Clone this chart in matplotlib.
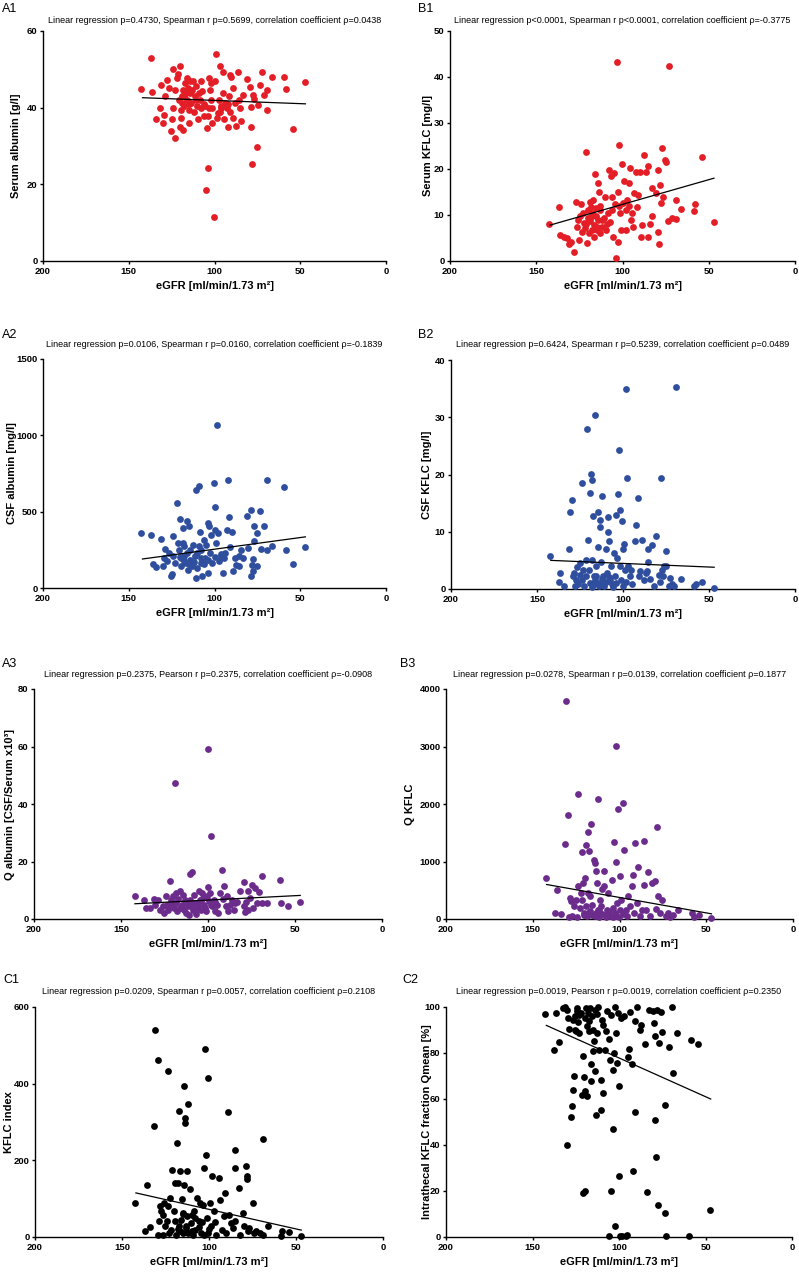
import matplotlib
matplotlib.use('Agg')
import matplotlib.pyplot as plt

W, H = 799, 1273

fit_x = [142, 47]

# A1 serum albumin
a1_pts = [(142.7, 44.9), (137.3, 53.0), (136.5, 44.0), (134.2, 37.1), (131.4, 45.9), (131.8, 39.9),
          (129.9, 36.0), (129.5, 38.2), (128.7, 43.0), (127.6, 47.3), (126.8, 45.2), (125.6, 34.0),
          (124.8, 37.1), (124.4, 39.9), (124.0, 50.0), (123.3, 32.0), (122.9, 44.6), (122.1, 47.8),
          (121.3, 48.9), (120.9, 42.1), (120.2, 50.8), (120.2, 34.9), (119.8, 39.5), (119.4, 37.3),
          (119.0, 41.2), (118.6, 44.7), (118.2, 34.3), (117.8, 43.0), (117.5, 40.4), (117.1, 46.5),
          (116.7, 43.9), (116.3, 42.1), (115.9, 47.8), (115.5, 45.2), (115.1, 36.0), (114.7, 39.5),
          (114.4, 43.8), (114.0, 46.9), (113.6, 41.2), (113.2, 44.7), (112.4, 47.0), (111.6, 43.0),
          (110.9, 45.6), (110.1, 40.4), (109.7, 37.1), (108.9, 43.9), (108.5, 42.1), (107.8, 46.9),
          (107.4, 44.3), (106.2, 37.8), (105.4, 40.4), (105.0, 18.4), (104.3, 34.7), (103.9, 37.8),
          (103.5, 24.2), (103.1, 47.8), (102.7, 44.7), (102.3, 42.1), (101.9, 46.5), (101.5, 36.0),
          (101.2, 39.9), (100.4, 11.6), (99.6, 46.9), (99.2, 54.1), (98.8, 37.3), (98.0, 38.6),
          (97.3, 42.1), (96.9, 51.0), (96.1, 40.4), (95.3, 49.3), (94.9, 43.9), (94.5, 37.1),
          (93.8, 41.2), (93.0, 39.9), (92.2, 35.0), (91.4, 43.0), (90.7, 48.6), (90.3, 48.0),
          (89.5, 45.2), (89.1, 37.3), (88.3, 41.1), (87.2, 35.1), (86.4, 49.3), (85.6, 42.1),
          (85.2, 39.9), (84.4, 36.4), (83.3, 43.4), (81.3, 47.6), (79.4, 45.4), (79.0, 40.2),
          (78.6, 34.9), (78.2, 25.4), (77.5, 43.4), (76.7, 42.3), (75.1, 29.7), (74.7, 40.8),
          (73.2, 46.0), (72.4, 49.3), (71.2, 43.3), (69.3, 39.3), (69.3, 44.6), (66.2, 48.0),
          (59.2, 48.0), (58.1, 44.8), (54.2, 34.5), (47.2, 46.7), (106, 41), (111, 42), (115, 41),
          (119, 43), (103, 40), (96, 40), (94, 40.5), (92, 41), (91, 39), (97, 39), (112, 39), (108, 40)]
a1_fit = [42.6, 41.0]

# B1 serum KFLC
b1_pts = [(142.4, 8.0), (136.8, 11.7), (136.0, 5.6), (134.1, 5.2), (132.2, 4.9), (131.0, 3.6),
          (129.9, 4.1), (127.9, 2.0), (127.1, 12.8), (126.4, 7.5), (125.6, 8.9), (125.2, 4.6),
          (124.4, 9.8), (124.1, 12.4), (123.7, 6.4), (122.9, 10.4), (122.5, 8.2), (121.7, 7.1),
          (121.0, 23.6), (120.6, 4.0), (120.2, 9.3), (119.8, 11.1), (119.4, 6.0), (119.0, 12.9),
          (118.6, 8.6), (118.3, 11.8), (117.9, 6.8), (117.5, 10.4), (117.1, 13.3), (116.7, 7.8),
          (116.3, 5.3), (115.9, 19.0), (115.6, 9.7), (115.2, 11.5), (114.8, 6.8), (114.4, 16.9),
          (114.0, 8.9), (113.6, 15.1), (113.2, 6.0), (112.9, 11.1), (112.1, 7.5), (110.9, 9.3),
          (110.1, 14.0), (109.4, 6.8), (108.6, 10.4), (107.8, 19.8), (107.1, 8.4), (106.7, 18.4),
          (105.9, 14.0), (105.5, 5.2), (104.7, 19.1), (104.3, 12.4), (103.6, 0.6), (103.2, 43.2),
          (102.8, 4.2), (102.4, 15.1), (102.0, 25.3), (101.6, 10.4), (100.9, 6.8), (100.1, 21.1),
          (99.7, 12.6), (98.9, 17.3), (98.2, 6.8), (97.4, 13.3), (96.2, 16.9), (95.5, 20.2),
          (94.7, 10.4), (93.9, 7.5), (93.1, 14.8), (92.4, 19.3), (91.6, 11.8), (90.8, 14.4),
          (90.0, 19.3), (89.3, 5.2), (88.5, 7.8), (87.3, 23.1), (86.2, 19.3), (85.4, 5.2),
          (85.0, 20.6), (84.3, 8.1), (83.1, 9.7), (82.7, 15.8), (80.8, 14.8), (79.2, 19.7),
          (79.2, 6.4), (78.8, 3.7), (78.1, 16.6), (77.7, 12.6), (76.9, 24.6), (76.5, 14.0),
          (75.4, 22.0), (75.0, 21.5), (73.4, 8.6), (73.0, 42.4), (71.5, 9.3), (69.2, 13.3),
          (68.8, 9.1), (66.1, 11.3), (58.7, 10.9), (57.9, 12.4), (54.1, 22.7), (47.2, 8.4),
          (118, 9.5), (121, 8), (115, 7.5), (112, 9), (109, 8), (113, 12), (106, 11), (102, 12),
          (98, 11), (96, 12), (95, 9)]
b1_fit = [7.8, 18.0]

# A2 CSF albumin
a2_pts = [(142.7, 360), (137.3, 349), (136.1, 159), (134.2, 135), (131.4, 321), (129.9, 142),
          (129.5, 196), (128.7, 255), (127.6, 175), (126.8, 229), (125.6, 76), (124.8, 92),
          (124.4, 338), (124.0, 207), (123.3, 164), (122.1, 557), (121.3, 295), (120.9, 251),
          (120.2, 452), (119.8, 196), (119.4, 142), (118.6, 295), (118.2, 393), (117.8, 207),
          (117.5, 273), (116.7, 164), (116.3, 437), (115.9, 229), (115.5, 120), (114.7, 404),
          (114.4, 186), (114.0, 251), (113.2, 142), (112.4, 284), (111.6, 207), (110.9, 65),
          (110.5, 644), (110.1, 131), (109.3, 666), (108.9, 273), (108.5, 365), (108.1, 164),
          (107.8, 247), (107.0, 76), (106.2, 317), (105.4, 196), (104.7, 284), (103.9, 98),
          (103.5, 426), (103.1, 408), (102.7, 229), (101.9, 349), (101.2, 164), (100.4, 688),
          (100.0, 530), (99.6, 378), (99.2, 295), (98.4, 1070), (98.0, 360), (97.3, 175),
          (96.5, 207), (94.9, 98), (94.5, 196), (93.8, 229), (93.0, 382), (92.2, 709), (91.4, 465),
          (90.7, 269), (89.9, 365), (89.1, 114), (88.3, 196), (87.2, 153), (86.0, 207), (85.6, 142),
          (84.8, 251), (83.3, 196), (81.3, 474), (80.2, 262), (79.0, 509), (78.6, 81), (78.2, 153),
          (77.8, 109), (77.5, 190), (77.1, 404), (76.7, 306), (75.5, 142), (75.1, 360), (73.2, 502),
          (72.8, 255), (71.2, 408), (69.3, 247), (69.3, 705), (66.2, 273), (59.2, 659), (58.1, 251),
          (54.2, 157), (47.2, 269), (118, 180), (112, 170), (108, 195), (104, 185), (100, 200),
          (96, 225), (114, 150), (120, 200), (110, 230), (106, 160)]
a2_fit = [190, 335]

# B2 CSF KFLC
b2_pts = [(142.6, 5.7), (137.2, 1.2), (136.4, 2.8), (134.1, 0.5), (131.4, 7.0), (131.0, 13.5),
          (129.5, 15.6), (129.1, 2.2), (128.7, 2.8), (127.9, 0.5), (127.1, 1.6), (126.7, 3.8),
          (126.0, 0.8), (125.2, 2.5), (124.8, 4.5), (124.0, 18.5), (123.6, 1.6), (123.3, 3.4),
          (122.5, 0.5), (121.7, 2.2), (121.3, 5.1), (120.9, 27.9), (120.2, 8.6), (119.8, 3.4),
          (119.4, 16.7), (119.0, 1.0), (118.6, 20.1), (118.2, 19.1), (117.8, 5.1), (117.4, 12.8),
          (117.1, 2.2), (116.7, 0.8), (116.3, 30.4), (115.9, 4.0), (115.5, 2.2), (114.7, 13.5),
          (114.3, 7.4), (113.6, 12.1), (113.6, 10.9), (113.2, 1.0), (112.8, 4.8), (112.0, 16.2),
          (111.6, 2.2), (110.9, 0.5), (110.1, 6.9), (109.3, 2.8), (108.9, 12.6), (108.5, 9.9),
          (108.1, 8.3), (107.8, 1.6), (107.0, 4.0), (106.2, 0.8), (105.4, 6.3), (104.7, 2.2),
          (104.3, 13.0), (103.5, 5.4), (102.7, 16.6), (102.3, 24.3), (101.9, 13.8), (101.6, 4.0),
          (101.2, 1.6), (100.4, 11.9), (100.0, 6.9), (99.2, 7.8), (98.8, 3.4), (98.1, 34.9),
          (97.7, 19.4), (96.9, 4.0), (96.1, 2.2), (95.3, 3.4), (94.6, 0.8), (93.0, 8.3), (92.2, 11.2),
          (91.1, 15.9), (90.7, 2.2), (89.9, 3.1), (88.8, 8.6), (88.0, 1.6), (86.8, 2.8), (86.0, 3.1),
          (85.3, 6.9), (85.3, 4.8), (84.1, 1.7), (82.9, 7.7), (82.2, 0.5), (80.6, 9.2), (79.1, 2.5),
          (78.7, 1.2), (77.9, 19.4), (77.5, 3.4), (76.7, 2.2), (76.0, 4.0), (75.2, 6.7), (74.8, 4.1),
          (73.3, 0.5), (72.9, 1.9), (71.3, 0.8), (70.2, 0.5), (69.0, 35.2), (66.3, 1.7), (58.9, 0.5),
          (57.8, 0.9), (53.9, 1.3), (47.1, 0.1), (118, 0.3), (114, 0.6), (110, 1.2), (106, 0.4),
          (104, 1.0), (100, 0.6), (98, 1.3), (112, 1.8), (108, 2.1), (116, 1.5)]
b2_fit = [5.0, 3.8]

# A3 Q albumin
a3_pts = [(142.2, 7.9), (136.9, 6.5), (135.9, 3.7), (133.6, 3.7), (131.3, 6.9), (130.5, 5.0),
          (128.6, 6.7), (127.4, 3.2), (125.9, 4.4), (125.5, 2.0), (124.4, 7.9), (123.6, 5.0),
          (122.8, 3.2), (122.1, 13.1), (121.3, 6.5), (120.5, 4.4), (120.2, 7.9), (119.8, 3.8),
          (119.0, 47.4), (118.6, 9.0), (118.2, 5.5), (117.9, 2.7), (117.1, 6.9), (116.3, 3.8),
          (115.9, 9.6), (115.2, 5.0), (114.4, 8.4), (114.0, 3.2), (113.2, 6.5), (112.5, 2.1),
          (111.7, 4.4), (110.9, 1.5), (110.6, 6.5), (110.2, 15.7), (109.4, 16.2), (108.6, 3.2),
          (108.3, 8.4), (107.5, 5.5), (106.7, 1.7), (105.9, 3.8), (105.2, 9.6), (104.8, 6.5),
          (104.0, 3.2), (103.6, 9.0), (102.9, 7.3), (102.1, 5.0), (101.3, 2.7), (100.6, 7.9),
          (100.2, 59.1), (99.8, 11.3), (99.4, 6.1), (98.7, 9.0), (98.3, 29.0), (97.5, 4.4),
          (96.7, 6.7), (96.0, 2.7), (94.8, 5.0), (94.0, 2.1), (92.9, 9.0), (92.1, 17.1), (91.4, 6.9),
          (91.0, 11.6), (89.8, 4.4), (89.1, 7.9), (88.3, 2.7), (87.1, 5.0), (86.0, 6.7), (85.2, 3.2),
          (84.5, 5.5), (83.3, 5.8), (81.4, 9.9), (79.5, 4.4), (79.1, 12.7), (78.7, 2.3), (77.9, 5.8),
          (77.2, 9.9), (76.8, 3.2), (76.0, 7.3), (74.9, 11.9), (74.1, 3.8), (73.1, 10.8), (72.1, 5.5),
          (70.9, 9.4), (69.0, 15.1), (68.7, 5.5), (66.0, 5.5), (58.7, 13.6), (57.9, 5.5), (54.1, 4.6),
          (47.2, 5.8), (120, 5.5), (115, 4), (110, 4.5), (106, 5), (102, 4), (98, 5), (96, 6),
          (108, 3), (112, 5.5), (104, 6.5)]
a3_fit = [5.3, 8.2]

# B3 Q KFLC
b3_pts = [(142.5, 711), (137.1, 104), (135.9, 509), (134.0, 92), (131.4, 1306), (131.0, 3786),
          (129.4, 1809), (129.1, 35), (128.3, 364), (127.9, 306), (127.1, 46), (126.0, 231),
          (125.2, 324), (124.4, 35), (124.1, 566), (123.7, 2173), (122.9, 191), (122.1, 451),
          (121.8, 335), (121.4, 1173), (121.0, 624), (120.6, 104), (120.2, 75), (119.8, 711),
          (119.5, 220), (119.1, 1289), (118.7, 58), (118.3, 1509), (117.9, 451), (117.5, 1185),
          (117.2, 133), (116.8, 393), (116.4, 1653), (116.0, 75), (115.6, 249), (114.9, 1029),
          (114.1, 971), (113.7, 104), (113.3, 827), (112.9, 624), (112.6, 162), (112.2, 2081),
          (111.8, 35), (111.0, 335), (110.6, 220), (109.9, 520), (109.1, 827), (108.7, 566),
          (107.9, 75), (107.2, 162), (106.4, 451), (105.3, 46), (104.5, 671), (103.7, 191),
          (103.0, 1347), (102.6, 104), (102.2, 3006), (101.8, 988), (101.4, 277), (100.7, 1913),
          (100.3, 35), (99.5, 740), (99.1, 335), (98.0, 2011), (97.6, 1202), (96.5, 162), (95.7, 58),
          (94.9, 393), (94.2, 220), (93.0, 566), (92.2, 769), (91.5, 104), (91.1, 1329), (89.9, 277),
          (89.2, 913), (88.4, 58), (87.2, 162), (86.1, 595), (85.7, 1358), (84.6, 162), (83.4, 815),
          (82.6, 46), (81.1, 624), (79.6, 653), (78.8, 173), (78.4, 1595), (78.0, 393), (76.5, 104),
          (75.4, 324), (73.4, 58), (71.9, 104), (71.1, 35), (69.2, 75), (66.2, 162), (58.1, 104),
          (57.3, 35), (53.9, 75), (47.0, 17), (118, 100), (114, 60), (110, 80), (106, 120),
          (102, 60), (98, 90), (112, 150), (108, 40), (104, 30), (100, 150)]
b3_fit = [600, 90]

# C1 KFLC index
c1_pts = [(142.3, 88), (136.7, 16), (135.9, 136), (133.7, 25), (131.4, 290), (131.0, 539),
          (129.4, 6), (129.1, 463), (128.7, 41), (128.3, 80), (127.5, 67), (126.7, 6), (126.4, 58),
          (126.0, 88), (125.2, 28), (124.4, 41), (123.7, 433), (123.3, 80), (122.9, 10), (122.5, 101),
          (121.8, 19), (121.0, 175), (120.2, 68), (119.8, 140), (119.5, 41), (119.1, 6), (118.3, 244),
          (117.9, 142), (117.5, 28), (117.2, 329), (116.8, 15), (116.4, 171), (116.0, 45), (115.6, 99),
          (115.2, 10), (114.9, 62), (114.5, 394), (114.1, 136), (113.7, 310), (113.7, 298), (113.3, 23),
          (112.9, 173), (112.6, 54), (112.2, 10), (111.8, 347), (111.0, 125), (110.6, 36), (109.9, 58),
          (109.1, 6), (108.7, 67), (107.9, 19), (106.8, 101), (106.0, 41), (105.3, 88), (104.5, 10),
          (103.7, 84), (103.0, 6), (102.6, 181), (102.2, 491), (101.8, 214), (101.4, 49), (100.7, 415),
          (100.3, 10), (99.5, 90), (98.8, 28), (98.0, 160), (97.2, 67), (96.5, 38), (95.7, 6),
          (94.5, 153), (93.4, 97), (92.6, 19), (91.5, 54), (90.7, 114), (90.0, 10), (88.8, 327),
          (88.4, 58), (87.2, 36), (86.1, 23), (85.3, 227), (85.3, 179), (85.0, 41), (83.0, 129),
          (81.9, 6), (80.7, 62), (79.6, 28), (78.8, 184), (78.4, 151), (78.0, 160), (77.6, 15),
          (76.9, 23), (74.9, 90), (74.2, 10), (73.0, 15), (70.8, 10), (69.2, 255), (68.8, 6),
          (66.2, 28), (58.9, 3), (58.1, 15), (54.3, 12), (47.4, 3), (118, 20), (113, 30), (110, 15),
          (106, 25), (104, 40), (100, 20), (108, 50), (115, 60)]
c1_fit = [115, 18]

# C2 intrathecal KFLC fraction
c2_pts = [(143.0, 97.0), (137.6, 81.4), (136.6, 97.4), (134.5, 84.6), (132.2, 99.6), (131.4, 100.0),
          (130.3, 40.1), (129.9, 98.8), (129.5, 95.2), (128.7, 90.4), (128.0, 52.2), (127.2, 56.8),
          (126.8, 63.8), (126.4, 94.5), (126.0, 70.1), (125.6, 90.1), (125.2, 95.9), (124.9, 89.4),
          (124.5, 98.1), (124.1, 99.6), (123.7, 93.3), (123.3, 96.7), (122.9, 88.7), (122.2, 97.4),
          (121.4, 61.9), (121.0, 19.1), (120.6, 78.6), (120.2, 69.4), (119.8, 63.3), (119.8, 19.9),
          (119.5, 95.2), (119.1, 99.6), (118.7, 61.2), (118.3, 91.6), (117.9, 97.4), (117.5, 94.1),
          (117.1, 89.4), (116.8, 99.6), (116.4, 67.7), (116.0, 75.4), (115.6, 96.2), (115.2, 80.7),
          (114.8, 90.1), (114.5, 85.1), (114.1, 98.8), (113.7, 72.0), (113.3, 52.9), (112.9, 97.0),
          (112.5, 88.8), (112.1, 99.9), (111.4, 81.4), (110.6, 55.4), (110.2, 68.4), (109.8, 94.5),
          (109.4, 62.6), (109.1, 92.3), (108.3, 81.4), (107.5, 89.4), (106.7, 98.1), (106.0, 86.1),
          (105.6, 0.3), (105.2, 77.1), (104.8, 96.7), (104.4, 20.1), (103.7, 72.8), (103.3, 47.1),
          (102.9, 80.0), (102.5, 4.6), (102.1, 99.9), (101.7, 88.7), (101.3, 75.7), (100.6, 97.4),
          (100.2, 26.4), (99.8, 65.8), (99.4, 0.6), (99.0, 95.2), (98.3, 0.6), (97.1, 95.9),
          (96.0, 0.6), (95.2, 1.0), (94.8, 78.3), (94.4, 81.7), (93.6, 97.7), (92.5, 75.4),
          (91.7, 28.8), (90.9, 93.8), (90.6, 54.3), (89.4, 99.9), (87.9, 90.1), (87.1, 92.3),
          (85.2, 83.9), (83.6, 19.4), (82.9, 98.8), (80.5, 98.1), (79.8, 93.0), (79.4, 51.0),
          (79.0, 87.5), (78.6, 34.8), (77.8, 98.6), (77.5, 13.8), (77.1, 84.3), (75.5, 97.7),
          (75.1, 89.0), (73.6, 57.5), (73.2, 10.4), (72.8, 0.3), (71.3, 82.6), (69.4, 99.9),
          (69.0, 71.3), (66.7, 88.7), (59.3, 0.3), (58.2, 85.8), (54.3, 84.1), (47.4, 11.7)]
c2_fit = [92, 60]

RED = '#e41e26'
BLUE = '#2f4f9e'
PURPLE = '#6c2c8c'
BLACK = '#000000'

XLAB = 'eGFR [ml/min/1.73 m²]'
ARIAL = ['Liberation Sans', 'DejaVu Sans']

fig = plt.figure(figsize=(W / 100, H / 100), dpi=100)


def panel(box, pts, fit, color, ymax, ystep, ylabel, ylab_x, title, tag, title_y, tag_y, tag_x):
    l, r, t, b = box
    ax = fig.add_axes([l / W, 1 - b / H, (r - l) / W, (b - t) / H])
    xs = [p[0] for p in pts]
    ys = [p[1] for p in pts]
    ax.scatter(xs, ys, s=24, color=color, linewidths=0, clip_on=False, zorder=3)
    ax.plot(fit_x, fit, color='black', lw=0.9, zorder=4)
    ax.set_xlim(200, 0)
    ax.set_ylim(0, ymax)
    ax.set_xticks([200, 150, 100, 50, 0])
    ax.set_yticks(list(range(0, ymax + 1, ystep)))
    for s in ['top', 'right']:
        ax.spines[s].set_visible(False)
    for s in ['left', 'bottom']:
        ax.spines[s].set_linewidth(1.0)
    ax.tick_params(length=2.5, width=1.0, pad=1.5, labelsize=6.8)
    for lab in ax.get_xticklabels() + ax.get_yticklabels():
        lab.set_fontweight('bold')
        lab.set_family(ARIAL)
    ax.set_xlabel(XLAB, fontsize=8, fontweight='bold', family=ARIAL, labelpad=4)
    ax.set_ylabel(ylabel, fontsize=8, fontweight='bold', family=ARIAL)
    # label anchor is its right edge after rotation
    ax.yaxis.set_label_coords((ylab_x + 5 - l) / (r - l), 0.5)
    fig.text((l + r) / 2 / W, 1 - title_y / H, title, ha='center', va='baseline',
             fontsize=6.5, family=ARIAL)
    fig.text(tag_x / W, 1 - tag_y / H, tag, ha='left', va='baseline', fontsize=9, family=ARIAL)
    return ax


panel((43, 386, 31, 261), a1_pts, a1_fit, RED, 60, 20, 'Serum albumin [g/l]', 16,
      'Linear regression p=0.4730, Spearman r p=0.5699, correlation coefficient ρ=0.0438',
      'A1', 23, 12, 2)
panel((450, 795, 31, 261), b1_pts, b1_fit, RED, 50, 10, 'Serum KFLC [mg/l]', 428,
      'Linear regression p<0.0001, Spearman r p<0.0001, correlation coefficient ρ=-0.3775',
      'B1', 23, 12, 418)
panel((43, 386, 359, 588), a2_pts, a2_fit, BLUE, 1500, 500, 'CSF albumin [mg/l]', 12,
      'Linear regression p=0.0106, Spearman r p=0.0160, correlation coefficient ρ=-0.1839',
      'A2', 347, 338, 2)
panel((451, 795, 360, 589), b2_pts, b2_fit, BLUE, 40, 10, 'CSF KFLC [mg/l]', 427,
      'Linear regression p=0.6424, Spearman r p=0.5239, correlation coefficient ρ=0.0489',
      'B2', 347, 338, 418)
panel((34, 382, 689, 919), a3_pts, a3_fit, PURPLE, 80, 20, 'Q albumin [CSF/Serum x10³]', 10,
      'Linear regression p=0.2375, Pearson r p=0.2375, correlation coefficient ρ=-0.0908',
      'A3', 677, 667, 2)
panel((446, 793, 689, 919), b3_pts, b3_fit, PURPLE, 4000, 1000, 'Q KFLC', 410,
      'Linear regression p=0.0278, Spearman r p=0.0139, correlation coefficient ρ=0.1877',
      'B3', 677, 667, 400)
panel((35, 383, 1007, 1237), c1_pts, c1_fit, BLACK, 600, 200, 'KFLC index', 9,
      'Linear regression p=0.0209, Spearman r p=0.0057, correlation coefficient ρ=0.2108',
      'C1', 994, 983, 3)
panel((446, 792, 1007, 1237), c2_pts, c2_fit, BLACK, 100, 20, 'Intrathecal KFLC fraction Qmean [%]', 427,
      'Linear regression p=0.0019, Pearson r p=0.0019, correlation coefficient ρ=0.2350',
      'C2', 994, 983, 402)

fig.savefig('out.png', dpi=100, facecolor='white')
